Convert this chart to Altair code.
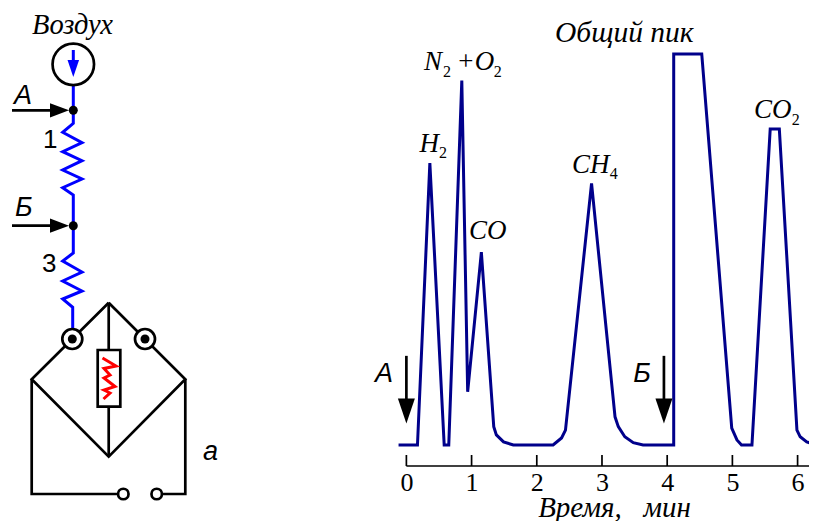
import altair as alt
import pandas as pd

# ---- chromatogram data (minutes, relative signal) ----
time_min = [-0.12, 0.17, 0.36, 0.58, 0.65, 0.85, 0.94, 1.15, 1.34, 1.38, 1.49, 1.64, 2.25, 2.38, 2.44, 2.84,
            3.20, 3.25, 3.35, 3.48, 3.63, 4.10, 4.10, 4.53, 4.99, 5.07, 5.14, 5.30, 5.58, 5.72, 5.99, 6.04, 6.14, 6.29]
signal = [0, 0, 72.1, 0, 0, 93.2, 13.6, 49.3, 4.7, 2.6, 0.8, 0, 0, 1.8, 3.8, 66.9,
          7.2, 4.7, 2.1, 0.6, 0, 0, 100, 100, 4.3, 1.3, 0, 0, 80.8, 80.8, 3.8, 2.1, 0.8, 0]
tick_values = [0, 1, 2, 3, 4, 5, 6]

word_labels = ["Общий пик"]
word_t = [2.28]
word_v = [103.0]
main_labels = ["N", "+O", "H", "CO", "CH", "CO"]
main_t = [0.27, 0.77, 0.20, 0.96, 2.54, 5.33]
main_v = [95.9, 95.9, 75.0, 52.8, 69.6, 83.6]
sub_labels = ["2", "2", "2", "4", "2"]
sub_t = [0.56, 1.34, 0.50, 3.12, 5.91]
sub_v = [94.2, 94.2, 73.4, 68.0, 81.8]
inj_labels = ["А", "Б"]
inj_label_t = [-0.48, 3.48]
inj_label_v = [16.2, 16.2]
inj_t = [0, 3.95]

FONT_SERIF = "Liberation Serif"
FONT_SANS = "Liberation Sans"
NAVY = "#00008b"
BLUE = "#0000ff"

# ---- schematic geometry (drawing units) ----
wire_blue = {
    "x": [73.3, 73.3, 62.7, 82, 62.7, 82, 62.7, 82, 62.7, 73.3, 73.3, 62.7, 82, 62.7, 82, 62.7, 72.7, 72.7],
    "y": [85, 123.3, 132.3, 142.7, 151.7, 160.7, 170, 179, 187.7, 195, 253, 261, 272, 281, 291, 299, 307.3, 330],
}
air_arrow = {"x": [73.3, 73.3], "y": [50, 66]}
bridge_paths = {
    "diamond": ([108.7, 31.7, 108.7, 185.3, 108.7], [302.7, 379.3, 456.7, 379.3, 302.7]),
    "centre": ([108.7, 108.7], [302.7, 456.7]),
    "left": ([31.7, 31.7, 123], [379.3, 494, 494]),
    "right": ([185.3, 185.3, 157], [379.3, 494, 494]),
    "feedA": ([12, 60], [110.3, 110.3]),
    "feedB": ([12, 60], [225.7, 225.7]),
}
coil_x = [102.5, 116, 104, 110, 104, 115, 104, 110, 103.5]
coil_y = [358, 366, 368.5, 375, 378, 386.5, 390, 393, 399]
resistor_x, resistor_x2 = [97.7], [120.3]
resistor_y, resistor_y2 = [350], [406.7]
dot_x, dot_y = [73.3, 73.3, 72.3, 145], [110.3, 225.7, 339, 339]
port_x, port_y = [72.3, 145], [339, 339]
term_x, term_y = [123.3, 156.7], [494, 494]
head_x, head_y = [59.5, 59.5], [110.3, 225.7]
sans_italic_labels = ["А", "Б", "а"]
sans_italic_x = [14, 15, 203]
sans_italic_y = [104, 215.7, 460]
digit_labels = ["1", "3"]
digit_x = [43, 42]
digit_y = [148, 272]


def table(**cols):
    return pd.DataFrame(cols)


def path_df(paths):
    rows = []
    for name, (xs, ys) in paths.items():
        for i, (a, b) in enumerate(zip(xs, ys)):
            rows.append({"g": name, "i": i, "x": a, "y": b})
    return pd.DataFrame(rows)


# ---- schematic layers ----
sx = alt.X("x:Q", scale=alt.Scale(domain=[8, 809], nice=False, zero=False), axis=None)
sy = alt.Y("y:Q", scale=alt.Scale(domain=[466, 8], nice=False, zero=False), axis=None)

black = alt.Chart(path_df(bridge_paths)).mark_line(color="black", strokeWidth=2.7, clip=False, strokeJoin="miter").encode(
    x=sx, y=sy, detail="g:N", order="i:Q")
blue = alt.Chart(path_df({"w": (wire_blue["x"], wire_blue["y"]), "a": (air_arrow["x"], air_arrow["y"])})).mark_line(
    color=BLUE, strokeWidth=3).encode(x=sx, y=sy, detail="g:N", order="i:Q")
resistor = alt.Chart(table(x=resistor_x, x2=resistor_x2, y=resistor_y, y2=resistor_y2)).mark_rect(
    fill="white", stroke="black", strokeWidth=2.7).encode(x=sx, x2="x2:Q", y=sy, y2="y2:Q")
coil = alt.Chart(table(x=coil_x, y=coil_y, i=list(range(len(coil_x))))).mark_line(
    color="#ff0000", strokeWidth=3).encode(x=sx, y=sy, order="i:Q")
air_circle = alt.Chart(table(x=[73.3], y=[64.3])).mark_point(
    shape="circle", size=1720, filled=False, stroke="black", strokeWidth=2.7, opacity=1).encode(x=sx, y=sy)
air_head = alt.Chart(table(x=[73.3], y=[68.5])).mark_point(
    shape="M-0.68,-1L0.68,-1L0,1Z", size=289, filled=True, fill=BLUE, stroke=None, opacity=1).encode(x=sx, y=sy)
heads_r = alt.Chart(table(x=head_x, y=head_y)).mark_point(
    shape="M-1,-0.75L-1,0.75L1,0Z", size=361, filled=True,
    fill="black", stroke=None, opacity=1).encode(x=sx, y=sy)
ports = alt.Chart(table(x=port_x, y=port_y)).mark_point(
    shape="circle", size=400, filled=True, fill="white", stroke="black", strokeWidth=2.7, opacity=1).encode(x=sx, y=sy)
terms = alt.Chart(table(x=term_x, y=term_y)).mark_point(
    shape="circle", size=110, filled=True, fill="white", stroke="black", strokeWidth=2.7, opacity=1).encode(x=sx, y=sy)
dots = alt.Chart(table(x=dot_x, y=dot_y)).mark_point(
    shape="circle", size=81, filled=True, fill="black", stroke=None, opacity=1).encode(x=sx, y=sy)
air_text = alt.Chart(table(x=[32], y=[33.5], t=["Воздух"])).mark_text(
    font=FONT_SERIF, fontStyle="italic", fontSize=28.5, align="left", baseline="alphabetic", color="black").encode(
    x=sx, y=sy, text="t:N")
sans_italic = alt.Chart(table(x=sans_italic_x, y=sans_italic_y, t=sans_italic_labels)).mark_text(
    font=FONT_SANS, fontStyle="italic", fontSize=27, align="left", baseline="alphabetic", color="black").encode(
    x=sx, y=sy, text="t:N")
sans_plain = alt.Chart(table(x=digit_x, y=digit_y, t=digit_labels)).mark_text(
    font=FONT_SANS, fontSize=26, align="left", baseline="alphabetic", color="black").encode(
    x=sx, y=sy, text="t:N")

# ---- chromatogram layers ----
T_MIN, T_MAX = -6.11, 6.175
V_MIN, V_MAX = -5.37, 111.76
t_scale = alt.Scale(domain=[T_MIN, T_MAX], nice=False, zero=False)
tx = alt.X("t:Q", scale=t_scale, axis=None)
tx_axis = alt.X("t:Q", scale=t_scale,
                axis=alt.Axis(values=tick_values, format="d", title="Время,\u00a0\u00a0\u00a0мин", ticks=False, domain=False,
                              grid=False, labelFont=FONT_SERIF, labelFontSize=26,
                              labelColor="black", labelPadding=3, labelFlush=False, labelOverlap=False, labelAngle=0,
                              titleFont=FONT_SERIF, titleFontStyle="italic", titleFontSize=29, titleFontWeight="normal",
                              titleColor="black", titleBaseline="alphabetic", titleAlign="center", titleY=50, titleX=606))
vy = alt.Y("v:Q", scale=alt.Scale(domain=[V_MIN, V_MAX], nice=False, zero=False), axis=None)

curve = alt.Chart(table(t=time_min, v=signal, i=list(range(len(signal))))).mark_line(
    color=NAVY, strokeWidth=3, clip=False, strokeJoin="miter").encode(x=tx, y=vy, order="i:Q")
ticks = alt.Chart(table(t=tick_values, v=[V_MIN] * 7, v2=[-2.56] * 7)).mark_rule(color="black", strokeWidth=1.7).encode(
    x=tx_axis, y=vy, y2="v2:Q")
axis_line = alt.Chart(table(t=[0], t2=[T_MAX], v=[V_MIN])).mark_rule(color="black", strokeWidth=1.7).encode(
    x=tx, x2="t2:Q", y=vy)
inj_lines = alt.Chart(table(t=inj_t, v=[22.8, 22.8], v2=[10, 10])).mark_rule(color="black", strokeWidth=2.7).encode(
    x=tx, y=vy, y2="v2:Q")
inj_heads = alt.Chart(table(t=inj_t, v=[8.7, 8.7])).mark_point(
    shape="M-0.68,-1L0.68,-1L0,1Z", size=625, filled=True, fill="black", stroke=None, opacity=1).encode(x=tx, y=vy)
word_text = alt.Chart(table(t=word_t, v=word_v, s=word_labels)).mark_text(
    font=FONT_SERIF, fontStyle="italic", fontSize=29.5, align="left", baseline="alphabetic", color="black").encode(
    x=tx, y=vy, text="s:N")
main_text = alt.Chart(table(t=main_t, v=main_v, s=main_labels)).mark_text(
    font=FONT_SERIF, fontStyle="italic", fontSize=27, align="left", baseline="alphabetic", color="black").encode(
    x=tx, y=vy, text="s:N")
sub_text = alt.Chart(table(t=sub_t, v=sub_v, s=sub_labels)).mark_text(
    font=FONT_SERIF, fontSize=16, align="left", baseline="alphabetic", color="black").encode(
    x=tx, y=vy, text="s:N")
inj_text = alt.Chart(table(t=inj_label_t, v=inj_label_v, s=inj_labels)).mark_text(
    font=FONT_SANS, fontStyle="italic", fontSize=27, align="left", baseline="alphabetic", color="black").encode(
    x=tx, y=vy, text="s:N")

schematic = [black, blue, resistor, coil, air_circle, air_head, heads_r, ports, terms, dots,
             air_text, sans_italic, sans_plain]
chromatogram = [axis_line, ticks, curve, inj_lines, inj_heads, word_text, main_text, sub_text, inj_text]

chart = alt.layer(*(schematic + chromatogram)).resolve_scale(x="independent", y="independent").properties(
    width=801, height=458, padding={"left": 0, "top": 0, "right": 0, "bottom": 55},
    autosize=alt.AutoSizeParams(type="none"), background="white").configure_view(stroke=None)

chart.save("out.html", embed_options={"renderer": "svg", "actions": False})
